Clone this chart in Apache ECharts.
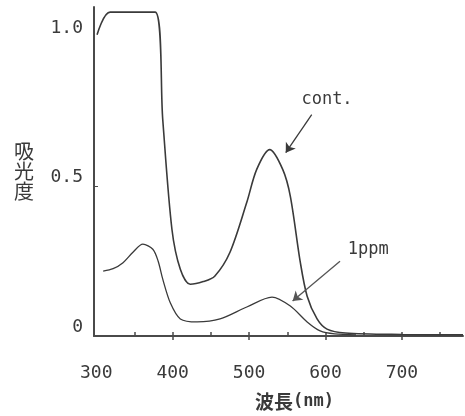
<!DOCTYPE html>
<html lang="ja">
<head>
    <meta charset="UTF-8">
    <title>吸光度スペクトル</title>
    <style>
        html, body { margin: 0; padding: 0; background: #fff; }
        #main { width: 465px; height: 416px; }
    </style>
</head>
<body>
<div id="main"></div>
<script src="https://cdn.jsdelivr.net/npm/echarts@6/dist/echarts.min.js"></script>
<script>
    const myChart = echarts.init(document.getElementById('main'));

    // 波長の目盛り
    const xLabelValues = [300, 400, 500, 600, 700];
    const xMinorTicks = [350, 400, 450, 500, 550, 600, 650, 700, 750];
    const xMajorTicks = [400, 500, 600, 700];
    const yLabelValues = [0, 0.5, 1.0];

    // cont.
    const contWl  = [301, 318, 377, 387, 399, 410, 423, 440, 455, 475, 497, 510, 527, 544, 554, 567, 576, 589, 602, 626, 700, 780];
    const contAbs = [1.007, 1.083, 1.083, 0.723, 0.357, 0.223, 0.173, 0.182, 0.2, 0.28, 0.447, 0.557, 0.623, 0.557, 0.467, 0.247, 0.133, 0.057, 0.023, 0.01, 0.005, 0.004];

    // 1ppm
    const ppmWl  = [309, 322, 335, 348, 361, 374, 381, 387, 397, 410, 432, 462, 497, 530, 554, 576, 593, 612, 640];
    const ppmAbs = [0.217, 0.225, 0.245, 0.28, 0.307, 0.29, 0.25, 0.19, 0.11, 0.057, 0.047, 0.057, 0.097, 0.13, 0.1, 0.047, 0.017, 0.007, 0.004];

    const zip = (xs, ys) => xs.map((x, i) => [x, ys[i]]);

    const ink = '#3a3a3a';
    const mono = '"DejaVu Sans Mono", monospace';

    const option = {
        animation: false,
        grid: { left: 94, right: 2, top: 7, bottom: 79 },
        xAxis: [
            {
                type: 'value', min: 297, max: 780,
                name: '{a|波長}{b|(nm)}',
                nameLocation: 'middle',
                nameGap: 56,
                nameTextStyle: {
                    padding: [0, 0, 0, 32],
                    rich: {
                        a: { fontFamily: '"Noto Sans CJK JP"', fontSize: 19, fontWeight: 'bold', color: ink },
                        b: { fontFamily: mono, fontSize: 17, fontWeight: 'bold', color: ink }
                    }
                },
                axisLine: { lineStyle: { color: '#4a4a4a', width: 2 } },
                axisTick: { inside: true, length: 4, customValues: xMinorTicks, lineStyle: { color: '#4a4a4a', width: 1.5 } },
                axisLabel: {
                    customValues: xLabelValues, margin: 28,
                    fontFamily: mono, fontSize: 18, color: ink
                },
                splitLine: { show: false }
            },
            {
                // 主目盛り（外側）
                type: 'value', min: 297, max: 780, position: 'bottom',
                axisLine: { show: false },
                axisTick: { length: 4, customValues: xMajorTicks, lineStyle: { color: '#4a4a4a', width: 1.5 } },
                axisLabel: { show: false },
                splitLine: { show: false }
            }
        ],
        yAxis: {
            type: 'value', min: 0, max: 1.1,
            name: '吸\n光\n度',
            nameLocation: 'middle',
            nameRotate: 0,
            nameGap: 60,
            nameTextStyle: { fontFamily: '"Noto Sans CJK JP"', fontSize: 20, lineHeight: 20, color: ink, padding: [20, 0, 0, 0] },
            axisLine: { show: true, lineStyle: { color: '#4a4a4a', width: 2 } },
            axisTick: { show: true, inside: true, length: 4, customValues: [0.5], lineStyle: { color: '#4a4a4a' } },
            axisLabel: {
                customValues: yLabelValues, margin: 11,
                verticalAlign: 'bottom',
                fontFamily: mono, fontSize: 18, color: ink,
                formatter: v => v === 0 ? '0' : v.toFixed(1)
            },
            splitLine: { show: false }
        },
        series: [
            {
                name: 'cont.',
                type: 'line',
                data: zip(contWl, contAbs),
                smooth: 0.3,
                showSymbol: false,
                lineStyle: { color: ink, width: 1.6 },
                markLine: {
                    silent: true,
                    symbol: ['none', 'arrow'],
                    symbolSize: 9,
                    label: { show: false },
                    lineStyle: { color: ink, width: 1.3, type: 'solid' },
                    data: [[{ coord: [582, 0.74] }, { coord: [548, 0.613] }]]
                },
                markPoint: {
                    symbol: 'rect', symbolSize: 1,
                    itemStyle: { color: 'rgba(0,0,0,0)' },
                    label: { show: true, formatter: 'cont.', fontFamily: mono, fontSize: 17, color: ink },
                    data: [{ coord: [602, 0.79] }]
                }
            },
            {
                name: '1ppm',
                type: 'line',
                data: zip(ppmWl, ppmAbs),
                smooth: 0.3,
                showSymbol: false,
                lineStyle: { color: ink, width: 1.3 },
                markLine: {
                    silent: true,
                    symbol: ['none', 'arrow'],
                    symbolSize: 9,
                    label: { show: false },
                    lineStyle: { color: '#555', width: 1.3, type: 'solid' },
                    data: [[{ coord: [619, 0.25] }, { coord: [557, 0.117] }]]
                },
                markPoint: {
                    symbol: 'rect', symbolSize: 1,
                    itemStyle: { color: 'rgba(0,0,0,0)' },
                    label: { show: true, formatter: '1ppm', fontFamily: mono, fontSize: 17, color: ink },
                    data: [{ coord: [656, 0.29] }]
                }
            }
        ]
    };

    myChart.setOption(option);
</script>
</body>
</html>
